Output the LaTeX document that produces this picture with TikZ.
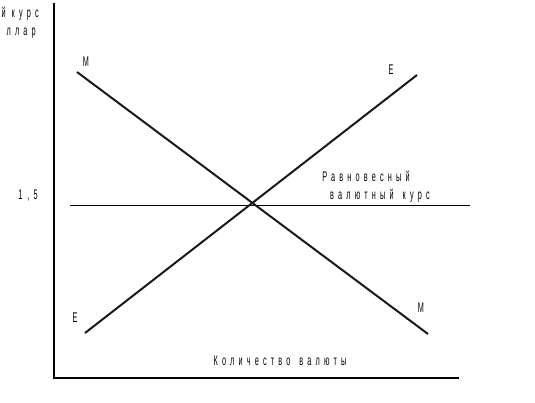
\documentclass[tikz,border=0pt]{standalone}
\usepackage{fontspec}
\newfontfamily\nf[FakeStretch=0.52,LetterSpace=30]{Liberation Sans}
\newcommand{\wsp}{\hspace*{9pt}}
\begin{document}
\begin{tikzpicture}[x=1pt,y=-1pt,
  lbl/.style={inner sep=0pt,font=\nf\fontsize{14}{16}\selectfont},
  axis/.style={line width=1.4pt,black},
  curve/.style={line width=2pt,black!90},
  level/.style={line width=1pt,black}]
\useasboundingbox (0,0) rectangle (535,402);
% axes
\coordinate (ytop) at (54,3);
\coordinate (orig) at (54,378);
\coordinate (xend) at (459,378);
\draw[axis] (ytop) -- (orig) -- (xend);
% equilibrium level
\coordinate (h1) at (70,205);
\coordinate (h2) at (470,205);
\draw[level] (h1) -- (h2);
% curves
\coordinate (m1) at (77,72);
\coordinate (m2) at (428,334);
\coordinate (e1) at (85,333);
\coordinate (e2) at (417,75);
\draw[curve] (m1) -- (m2);
\draw[curve] (e1) -- (e2);
% labels
\node[lbl] (lm1) at (86,62) {М};
\node[lbl] (le2) at (391,70) {Е};
\node[lbl] (le1) at (75,318) {Е};
\node[lbl] (lm2) at (421,308) {М};
\node[lbl] (l15) at (28,196) {1\hspace*{5pt},\hspace*{4pt}5};
\node[lbl] (eq1) at (366,176) {Равновесный};
\node[lbl] (eq2) at (380,196) {валютный\wsp курс};
\node[lbl] (qty) at (280,361) {Количество\wsp валюты};
\node[lbl,anchor=east] (yl1) at (39,14) {й\hspace*{6pt}курс};
\node[lbl,anchor=east] (yl2) at (36,33) {ллар};
\end{tikzpicture}
\end{document}
